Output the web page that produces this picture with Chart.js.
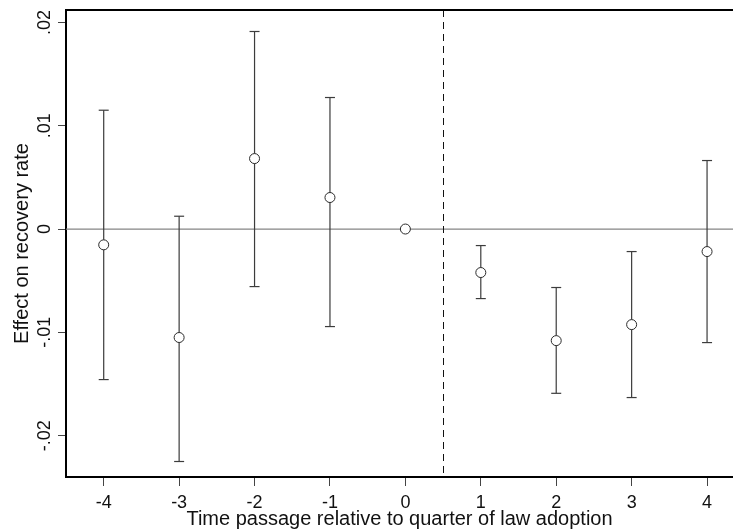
<!DOCTYPE html>
<html lang="en">
<head>
  <meta charset="UTF-8" />
  <title>Effect on recovery rate around law adoption</title>
  <script src="https://cdn.jsdelivr.net/npm/chart.js"></script>
  <style>
    html, body { margin: 0; padding: 0; background: #fff; }
    #wrap { width: 733px; height: 531px; }
  </style>
</head>
<body>
  <div id="wrap"><canvas id="chart" width="733" height="531"></canvas></div>

  <script>
    // quarters relative to law adoption
    const quarters = [-4, -3, -2, -1, 0, 1, 2, 3, 4];
    const estimates = [-0.00153, -0.0105, 0.00682, 0.00305, 0, -0.00421, -0.0108, -0.00925, -0.00218];
    const ciLower = [-0.01457, -0.0225, -0.00557, -0.00944, null, -0.00673, -0.0159, -0.01631, -0.01099];
    const ciUpper = [0.0115, 0.00124, 0.01912, 0.01273, null, -0.0016, -0.00566, -0.00218, 0.00663];
    const xTickLabels = ['-4', '-3', '-2', '-1', '0', '1', '2', '3', '4'];
    const yTickValues = [-0.02, -0.01, 0, 0.01, 0.02];
    const yTickLabels = ['-.02', '-.01', '0', '.01', '.02'];
    const adoptionLine = 0.5;

    Chart.defaults.font.family = "'Liberation Sans', Arial, sans-serif";
    Chart.defaults.color = '#111';

    // error bars: low/high pairs, split by nulls
    const ciPoints = quarters.flatMap((q, i) => ciLower[i] === null ? [] : [
      { x: q, y: ciLower[i] },
      { x: q, y: ciUpper[i] },
      { x: q, y: null }
    ]);
    const estPoints = quarters.map((q, i) => ({ x: q, y: estimates[i] }));

    // zero line, adoption line, top frame
    const refLines = {
      id: 'refLines',
      beforeDatasetsDraw(chart) {
        const { ctx, chartArea, scales } = chart;
        const y0 = scales.y.getPixelForValue(0);
        const xd = Math.round(scales.x.getPixelForValue(adoptionLine)) + 0.5;
        ctx.save();
        ctx.strokeStyle = '#858585';
        ctx.lineWidth = 1.2;
        ctx.beginPath();
        ctx.moveTo(chartArea.left, y0);
        ctx.lineTo(chartArea.right, y0);
        ctx.stroke();

        ctx.strokeStyle = '#111';
        ctx.lineWidth = 1;
        ctx.setLineDash([7, 5]);
        ctx.beginPath();
        ctx.moveTo(xd, chartArea.top);
        ctx.lineTo(xd, chartArea.bottom);
        ctx.stroke();
        ctx.setLineDash([]);

        ctx.strokeStyle = '#000';
        ctx.lineWidth = 2;
        ctx.beginPath();
        ctx.moveTo(chartArea.left, chartArea.top);
        ctx.lineTo(chartArea.right, chartArea.top);
        ctx.stroke();
        ctx.restore();
      }
    };

    new Chart(document.getElementById('chart'), {
      type: 'scatter',
      data: {
        datasets: [
          {
            label: 'Estimate',
            data: estPoints,
            pointStyle: 'circle',
            pointRadius: 5,
            pointBorderWidth: 1,
            pointBorderColor: '#2a2a2a',
            pointBackgroundColor: '#fff',
            showLine: false
          },
          {
            label: 'CI',
            data: ciPoints,
            showLine: true,
            spanGaps: false,
            borderColor: '#3c3c3c',
            borderWidth: 1.2,
            pointStyle: 'line',
            pointRadius: 5,
            pointBorderWidth: 1.2,
            pointBorderColor: '#3c3c3c'
          }
        ]
      },
      options: {
        responsive: false,
        animation: false,
        devicePixelRatio: 1,
        layout: { autoPadding: false, padding: { top: 10, right: 0, bottom: 0, left: 0 } },
        plugins: {
          legend: { display: false },
          tooltip: { enabled: false }
        },
        scales: {
          x: {
            type: 'linear',
            position: 'bottom',
            min: -4.5,
            max: 4.344,
            afterBuildTicks: (scale) => { scale.ticks = quarters.map(v => ({ value: v })); },
            afterFit: (scale) => {
              scale.height = 54;
              scale.paddingRight = 0;
              scale.paddingLeft = 0;
            },
            ticks: {
              callback: (v) => xTickLabels[quarters.indexOf(v)],
              autoSkip: false,
              maxRotation: 0,
              padding: 6,
              color: '#111',
              font: { size: 18 }
            },
            grid: { drawOnChartArea: false, tickLength: 9, color: '#444', tickWidth: 1 },
            border: { display: true, color: '#000', width: 2 },
            title: {
              display: true,
              text: 'Time passage relative to quarter of law adoption',
              color: '#111',
              font: { size: 20 },
              padding: { top: 0, bottom: 0 }
            }
          },
          y: {
            min: -0.024,
            max: 0.0212,
            afterBuildTicks: (scale) => { scale.ticks = yTickValues.map(v => ({ value: v })); },
            afterFit: (scale) => {
              scale.width = 66;
              scale.paddingTop = 0;
              scale.paddingBottom = 0;
            },
            ticks: {
              callback: (v) => yTickLabels[yTickValues.indexOf(v)],
              minRotation: 90,
              maxRotation: 90,
              crossAlign: 'center',
              padding: -3,
              color: '#111',
              font: { size: 18 }
            },
            grid: { drawOnChartArea: false, tickLength: 8, color: '#444', tickWidth: 1 },
            border: { display: true, color: '#000', width: 2 },
            title: {
              display: true,
              text: 'Effect on recovery rate',
              color: '#111',
              font: { size: 20 },
              padding: { top: 10, bottom: 0 }
            }
          }
        }
      },
      plugins: [refLines]
    });
  </script>
</body>
</html>
